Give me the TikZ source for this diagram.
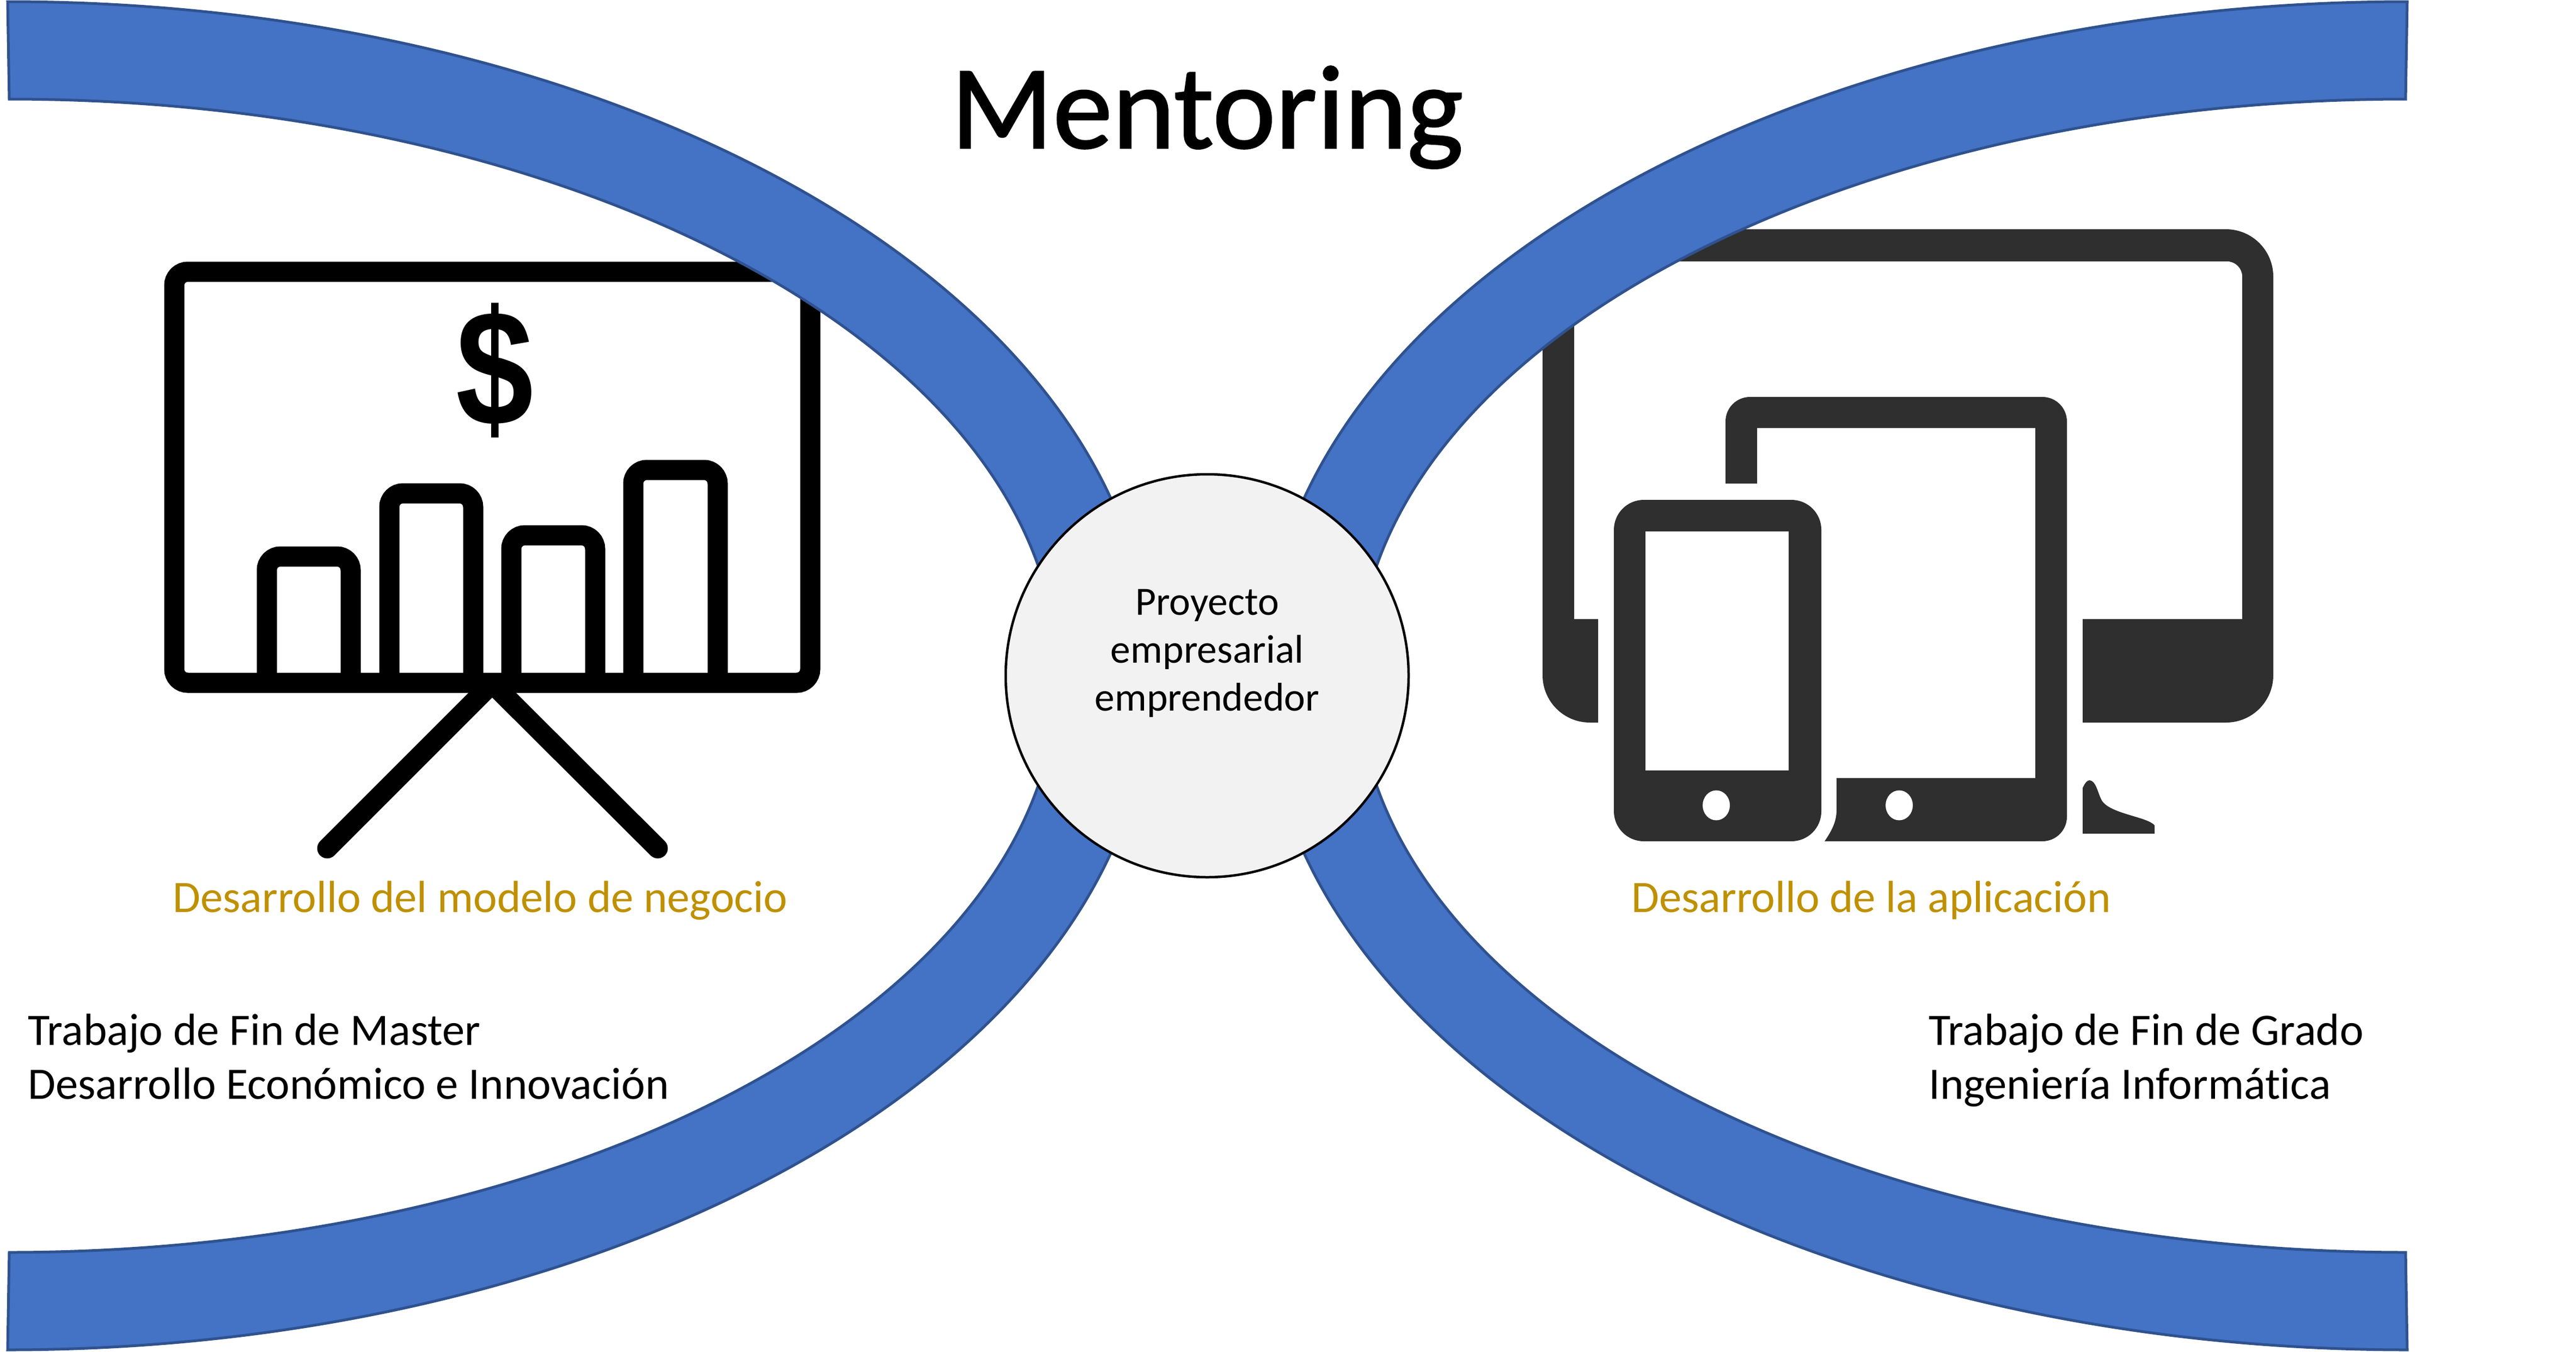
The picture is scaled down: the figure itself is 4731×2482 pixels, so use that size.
\documentclass[tikz,border=0pt]{standalone}
\usepackage{fontspec}
\setmainfont{Carlito}[Ligatures=NoCommon]
\newfontfamily\titlefont{Carlito}[Ligatures=NoCommon, FakeBold=1.2]
\newfontfamily\dollarfont{Liberation Sans}
\usetikzlibrary{positioning}
\definecolor{bandblue}{HTML}{4472C4}
\definecolor{banddark}{HTML}{2F528F}
\definecolor{labelgold}{HTML}{BF9000}
\definecolor{devicegrey}{HTML}{2F2F2F}
\definecolor{hubgrey}{HTML}{F2F2F2}
\tikzset{
  band/.style={fill=bandblue, draw=banddark, line width=5pt},
  boardline/.style={draw=black, line width=37pt},
  device/.style={fill=devicegrey},
  hub/.style={circle, draw=black, fill=hubgrey, line width=4.5pt, minimum size=740pt, inner sep=0pt},
  maintitle/.style={font=\titlefont\fontsize{219}{260}\selectfont, anchor=base},
  hubtext/.style={font=\fontsize{73.6}{88}\selectfont, align=center, anchor=base},
  goldlabel/.style={font=\fontsize{82.7}{100}\selectfont, text=labelgold, anchor=base west, inner sep=0pt},
  sidelabel/.style={font=\fontsize{82.7}{99}\selectfont, align=left, anchor=base west, inner sep=0pt}
}

\begin{document}
\begin{tikzpicture}[x=1pt, y=-1pt]
        \useasboundingbox (0,0) rectangle (4731,2482);

        \draw[boardline, rounded corners=25pt] (320,499) rectangle (1488,1254);
        \foreach \barleft/\barright/\bartop in {490/644/1022, 715/869/906, 939/1093/983, 1163/1318/863}
          \draw[boardline, rounded corners=25pt] (\barleft,1254) -- (\barleft,\bartop) -- (\barright,\bartop) -- (\barright,1254);
        \draw[boardline, line cap=round, line join=bevel] (601,1558) -- (904,1255) -- (1208,1558);
        \node[font=\dollarfont\bfseries\fontsize{303}{303}\selectfont, inner sep=0pt, xscale=0.845, transform shape] (dollar) at (909,680) {\$};

        \fill[device] (2935,1327) [rounded corners=87pt] -- (2833,1327) -- (2833,421) -- (4175,421) -- (4175,1327) [sharp corners] -- (3825,1327) -- (3825,1137) -- (4118,1137) [rounded corners=28pt] -- (4118,480) -- (2891,480) [sharp corners] -- (2891,1137) -- (2935,1137) -- cycle;
        \fill[device] (3169,888) [rounded corners=45pt] -- (3169,729) -- (3796,729) -- (3796,1545) [sharp corners] -- (3351,1545) .. controls (3368,1520) and (3373,1505) .. (3373,1486) -- (3373,1429) -- (3738,1429) -- (3738,786) -- (3227,786) -- (3227,888) -- cycle;
        \fill[device, rounded corners=55pt] (2964,1230) -- (2964,918) -- (3345,918) -- (3345,1545) -- (2964,1545) -- cycle;
        \fill[white] (3022,976) rectangle (3285,1415);
        \fill[white] (3152,1479) ellipse [x radius=25, y radius=27.5];
        \fill[white] (3488,1479) ellipse [x radius=25, y radius=27.5];
        \fill[device] (3825,1531) -- (3825,1447) .. controls (3830,1436) and (3834,1433) .. (3838,1433) .. controls (3850,1435) and (3852,1455) .. (3860,1470) .. controls (3875,1495) and (3945,1500) .. (3957,1516) -- (3957,1531) -- cycle;

        \foreach \sx in {1,-1}
          \foreach \sy in {1,-1}
            \draw[band, shift={(2217.5,1241)}, xscale=\sx, yscale=\sy] (-2203.5,-1238) arc[start angle=-90, end angle=-10, x radius=2100, y radius=1238] -- ({-2200.5+1925*cos(10)},{-1059*sin(10)}) arc[start angle=-10, end angle=-90, x radius=1925, y radius=1059] -- cycle;

        \node[hub] (proyecto) at (2217,1241) {};
        \node[hubtext] (proyectotext) at (2217,1305) {Proyecto\\empresarial\\emprendedor};

        \node[maintitle] (mentoring) at (2217,272) {Mentoring};
        \node[goldlabel] (modelo) at (317,1675) {Desarrollo del modelo de negocio};
        \node[goldlabel] (aplicacion) at (2996,1675) {Desarrollo de la aplicación};
        \node[sidelabel] (master) at (51,2018) {Trabajo de Fin de Master\\Desarrollo Económico e Innovación};
        \node[sidelabel] (grado) at (3542,2018) {Trabajo de Fin de Grado\\Ingeniería Informática};
      \end{tikzpicture}
\end{document}
